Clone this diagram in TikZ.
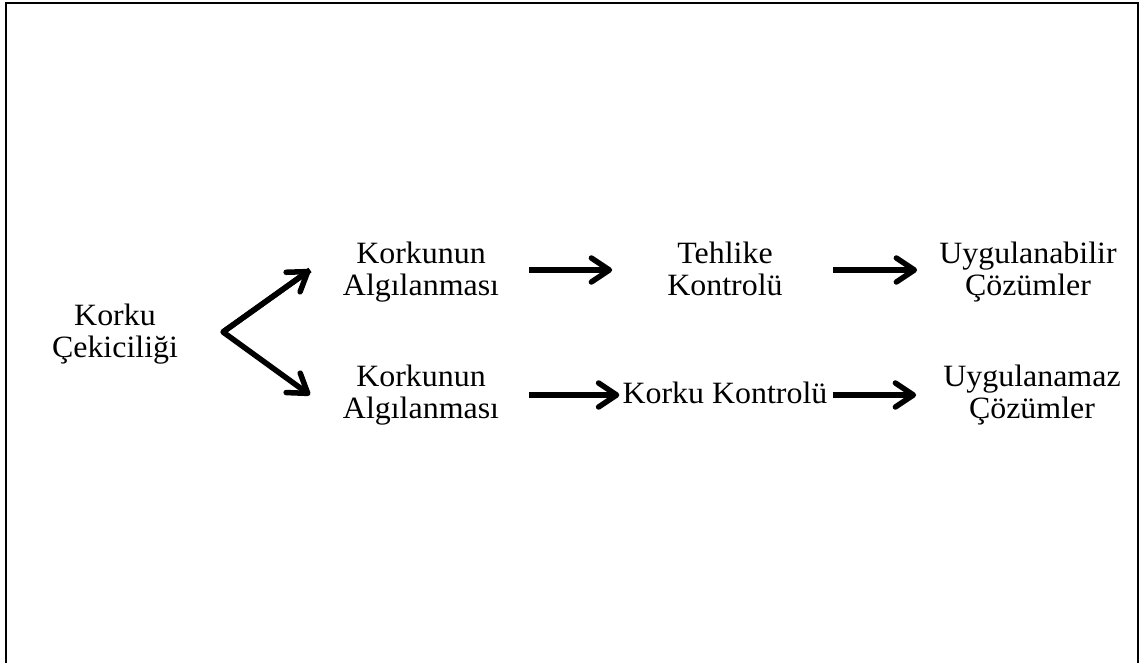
\documentclass[tikz,border=0pt]{standalone}
\usepackage{fontspec}
\setmainfont{Liberation Serif}[FakeStretch=1.03]
\usetikzlibrary{arrows.meta}
\begin{document}
\begin{tikzpicture}[x=1pt,y=-1pt,
  txt/.style={align=center,anchor=base,font=\fontsize{31}{31.5}\selectfont,inner sep=2pt},
  arr/.style={line width=5.5pt,-{Straight Barb[round,length=18pt,width=24pt]}},
  frame/.style={line width=2.5pt}]
\useasboundingbox (0,0) rectangle (1144,662);
% open frame (its lower edge lies below the page)
\draw[frame] (6,668) -- (6,3) -- (1138,3) -- (1138,668);

% texts, each placed by the baseline of its last line
\node[txt] (appeal) at (115,357) {Korku\\Çekiciliği};
\node[txt] (percA)  at (421,295) {Korkunun\\Algılanması};
\node[txt] (percB)  at (421,418) {Korkunun\\Algılanması};
\node[txt] (danger) at (725,295) {Tehlike\\Kontrolü};
\node[txt] (fear)   at (725,403) {Korku Kontrolü};
\node[txt] (good)   at (1028,295) {Uygulanabilir\\Çözümler};
\node[txt] (bad)    at (1032,418) {Uygulanamaz\\Çözümler};

% fork out of the appeal
\coordinate (fork) at (223,332);
\coordinate (upTip) at (310,270);
\coordinate (downTip) at (310,395);
\draw[arr,line join=round] (upTip) -- (fork) -- (downTip);
\draw[arr] (fork) -- (upTip);

% row connectors
\draw[arr,shorten <=28pt,shorten >=53pt] (percA.east |- upTip) -- (danger.west |- upTip);
\draw[arr,shorten <=28pt,shorten >=1pt] (percB.east |- downTip) -- (fear.west |- downTip);
\draw[arr,shorten <=48pt,shorten >=20pt] (danger.east |- upTip) -- (good.west |- upTip);
\draw[arr,shorten <=3pt,shorten >=25pt] (fear.east |- downTip) -- (bad.west |- downTip);
\end{tikzpicture}
\end{document}
